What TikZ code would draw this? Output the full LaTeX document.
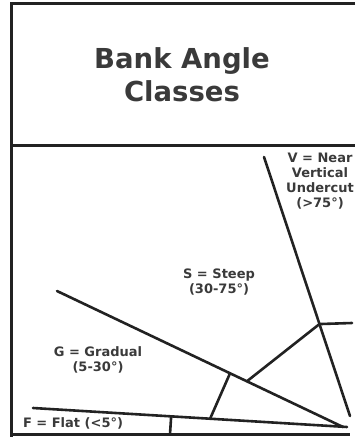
\documentclass[tikz,border=0pt]{standalone}
\usepackage{fontspec}
\setmainfont{DejaVu Sans}
\usetikzlibrary{calc}
\definecolor{BAInk}{RGB}{34, 34, 34}
\definecolor{BAText}{RGB}{58, 58, 58}

\begin{document}
\begin{tikzpicture}[
  x=1pt, y=-1pt,
  frame/.style={draw=BAInk, line width=3pt},
  edge/.style={draw=BAInk, line width=2.6pt, line cap=round},
  title/.style={text=BAText, font=\fontsize{27.5}{33}\selectfont\bfseries, align=center},
  cls/.style={text=BAText, font=\fontsize{13}{15}\selectfont\bfseries, align=center, inner sep=0pt}
]
  \useasboundingbox (0,0) rectangle (359,444);

  %% Frame corners
  \coordinate (tl)   at (11,4);
  \coordinate (tr)   at (355,4);
  \coordinate (bl)   at (11,437);
  \coordinate (sepl) at (11,145);
  \coordinate (sepr) at (355,145);
  \coordinate (botl) at (11,434);
  \coordinate (botr) at (350,434);

  %% Class boundaries
  \coordinate (vtop)  at (264,157);
  \coordinate (vbot)  at (350,416);
  \coordinate (hub)   at ($(vtop)!0.645!(vbot)$);
  \coordinate (stub)  at (352,323);
  \coordinate (gtop)  at (57,291);
  \coordinate (gbot)  at (343,427);
  \coordinate (ftop)  at (33,408);
  \coordinate (fbot)  at (347,427);
  \coordinate (gmid)  at ($(gtop)!0.664!(gbot)$);
  \coordinate (gleft) at ($(gtop)!0.605!(gbot)$);
  \coordinate (fmid)  at ($(ftop)!0.564!(fbot)$);
  \coordinate (ftick) at ($(ftop)!0.44!(fbot)$);
  \coordinate (btick) at (170,434);

  %% Title
  \node[title] (head) at (182,75) {Bank Angle\\Classes};

  %% Frame lines
  \draw[frame] (tr) -- (tl) -- (bl);
  \draw[frame] (sepl) -- (sepr);
  \draw[frame] (botl) -- (botr);

  %% Boundary lines
  \draw[edge] (vtop)  -- (vbot);
  \draw[edge] (hub)   -- (stub);
  \draw[edge] (hub)   -- (gmid);
  \draw[edge] (gtop)  -- (gbot);
  \draw[edge] (gleft) -- (fmid);
  \draw[edge] (ftop)  -- (fbot);
  \draw[edge] (ftick) -- (btick);

  %% Class labels
  \node[cls] (vert)  at (320,181) {V = Near\\Vertical\\Undercut\\(>75°)};
  \node[cls] (steep) at (219,282) {S = Steep\\(30-75°)};
  \node[cls] (grad)  at (98,360)  {G = Gradual\\(5-30°)};
  \node[cls] (flat)  at (73,423)  {F = Flat (<5°)};
\end{tikzpicture}
\end{document}
